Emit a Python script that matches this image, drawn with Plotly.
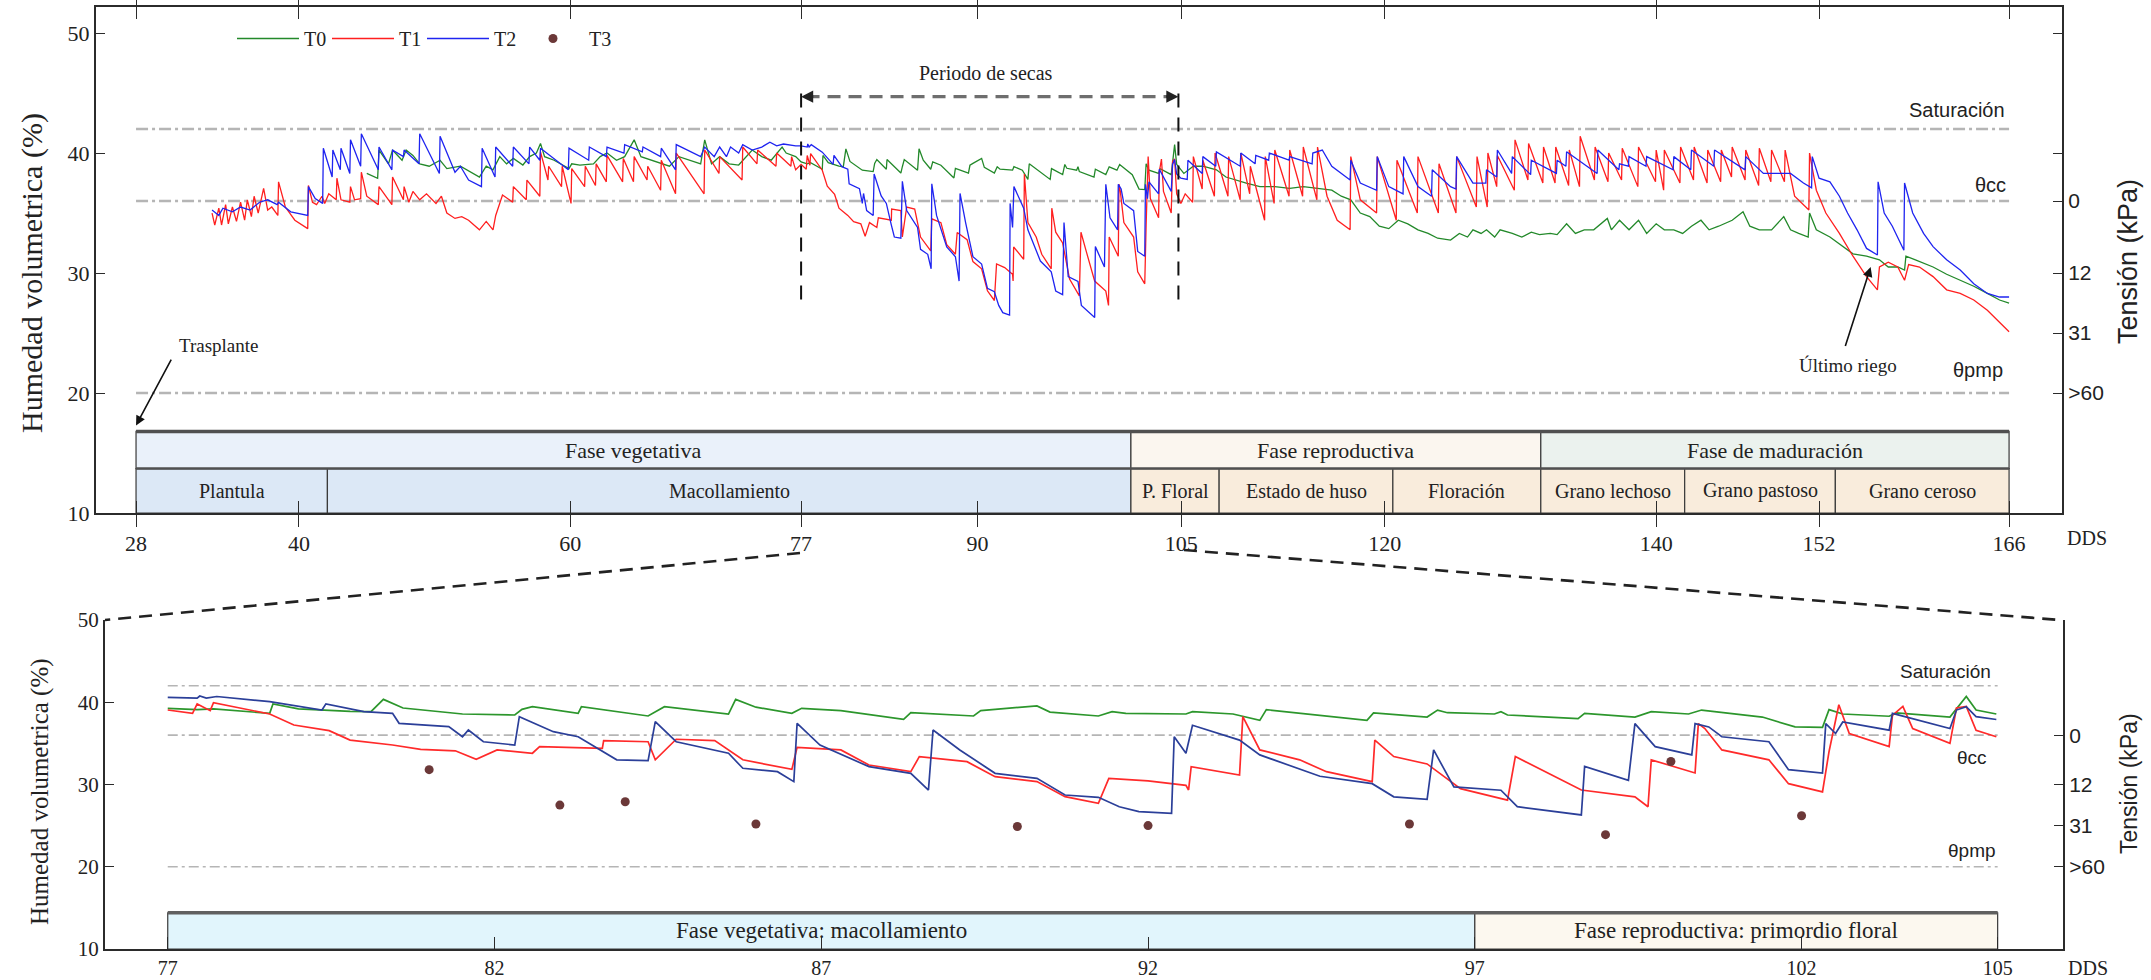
import plotly.graph_objects as go

# ---------------------------------------------------------------------------
# Soil volumetric moisture (%) per treatment vs. days after sowing (DDS)
# Each series is a list of (DDS, moisture) readings.
# ---------------------------------------------------------------------------

# Before the dry period (transplant -> 77 DDS)
t0_early = [(45.0, 38.3), (45.8, 37.9), (45.9, 40.25), (46.6, 39.1), (46.9, 40.25), (47.6, 39.4),
            (47.9, 40.25), (48.4, 39.8), (48.9, 39.1), (49.6, 38.9), (50.4, 39.4), (50.9, 38.7),
            (51.9, 38.9), (52.8, 38.3), (53.3, 38.0), (53.8, 38.9), (54.3, 38.6), (54.8, 39.7),
            (55.3, 39.1), (55.8, 39.55), (56.5, 39.0), (57.0, 39.7), (57.5, 40.0), (57.8, 40.8),
            (58.1, 39.7), (58.8, 39.4), (59.9, 38.7), (60.1, 39.1), (60.7, 39.0), (61.7, 39.1),
            (62.2, 39.7), (62.7, 40.0), (63.4, 39.4), (64.0, 39.7), (64.7, 41.1), (65.2, 39.7),
            (66.0, 39.4), (67.3, 38.9), (68.0, 39.7), (69.6, 39.1), (69.9, 41.1), (70.4, 39.1),
            (71.0, 39.7), (71.7, 39.1), (72.4, 39.0), (73.4, 40.25), (74.1, 39.7), (74.8, 39.4),
            (75.6, 40.5), (75.9, 40.0), (76.6, 39.7)]

t1_early = [(33.6, 35.0), (33.8, 34.0), (34.1, 35.4), (34.3, 34.0), (34.6, 35.7), (34.8, 34.1),
            (35.1, 35.5), (35.4, 34.3), (35.7, 35.9), (36.0, 34.4), (36.2, 36.1), (36.5, 34.7),
            (36.7, 36.4), (37.0, 35.0), (37.4, 37.05), (37.7, 35.25), (38.0, 35.5), (38.45, 34.8),
            (38.5, 37.6), (39.0, 35.5), (39.7, 34.4), (40.65, 33.7), (40.7, 37.3), (41.0, 35.9),
            (41.3, 35.7), (41.7, 36.4), (41.9, 35.8), (42.2, 36.6), (42.75, 36.1), (42.8, 37.9),
            (43.1, 36.1), (43.75, 35.9), (43.8, 37.2), (44.1, 36.1), (44.55, 36.2), (44.6, 38.4),
            (45.0, 36.4), (45.85, 35.7), (45.9, 37.2), (46.85, 35.7), (46.9, 38.0), (47.7, 36.1),
            (47.75, 37.2), (48.1, 35.9), (48.4, 36.8), (48.9, 36.1), (49.4, 36.6), (50.1, 35.8),
            (50.5, 36.4), (50.9, 35.0), (51.5, 34.55), (52.0, 34.7), (52.5, 34.4), (53.3, 33.6),
            (53.8, 34.3), (54.3, 33.6), (54.5, 34.8), (55.0, 36.5), (55.75, 35.9), (55.8, 37.2),
            (56.75, 36.1), (56.8, 37.75), (57.75, 36.4), (57.8, 40.1), (58.35, 37.75),
            (58.4, 38.9), (59.35, 37.2), (59.4, 38.9), (60.05, 35.8), (60.1, 38.7), (61.05, 37.2),
            (61.1, 38.9), (61.85, 37.3), (61.9, 39.1), (62.65, 37.6), (62.7, 39.8), (63.85, 37.6),
            (63.9, 39.55), (64.65, 37.6), (64.7, 39.7), (65.65, 37.75), (65.7, 38.9),
            (66.65, 36.9), (66.7, 39.4), (67.75, 36.6), (67.8, 40.0), (69.85, 36.6),
            (69.9, 40.25), (70.95, 38.3), (71.0, 39.7), (72.65, 37.75), (72.7, 40.5),
            (73.75, 39.1), (73.8, 40.25), (75.15, 38.9), (75.2, 40.0), (76.25, 38.9),
            (76.3, 39.7), (76.6, 38.6)]

t2_early = [(33.6, 35.25), (34.1, 34.8), (34.4, 35.4), (35.1, 35.1), (35.7, 35.5), (36.4, 35.25),
            (37.1, 35.9), (37.7, 36.1), (38.4, 35.7), (38.5, 35.9), (39.4, 35.1), (40.65, 34.8),
            (40.7, 37.2), (41.2, 36.2), (41.75, 35.8), (41.8, 40.4), (42.45, 38.0), (42.5, 40.25),
            (43.05, 38.6), (43.1, 40.4), (43.75, 38.3), (43.8, 41.1), (44.55, 38.9), (44.6, 41.6),
            (45.85, 38.6), (45.9, 40.5), (46.85, 38.6), (46.9, 40.25), (47.7, 39.7),
            (47.75, 40.25), (48.85, 39.1), (48.9, 41.6), (50.35, 38.3), (50.4, 41.4),
            (51.5, 38.4), (51.9, 38.9), (52.5, 37.75), (53.45, 37.2), (53.5, 40.4), (54.45, 38.0),
            (54.5, 40.5), (55.75, 38.9), (55.8, 40.5), (56.95, 39.1), (57.0, 40.5), (57.75, 39.4),
            (57.8, 40.4), (59.85, 38.6), (59.9, 40.4), (61.35, 39.4), (61.4, 40.5), (62.65, 39.7),
            (62.7, 40.5), (63.95, 40.0), (64.0, 40.7), (65.3, 40.1), (65.35, 40.5), (66.65, 39.7),
            (66.7, 40.4), (67.75, 38.6), (67.8, 40.7), (69.6, 39.7), (69.9, 40.5), (70.6, 39.7),
            (71.0, 40.5), (71.5, 39.7), (71.8, 40.5), (72.4, 40.0), (72.7, 40.7), (73.4, 40.25),
            (74.1, 40.5), (74.7, 40.9), (75.2, 40.6), (75.7, 40.75), (76.6, 40.6)]

# Dry period (77 -> 105 DDS), also shown in the detail panel
t0_dry = [(77.0, 39.26), (77.45, 39.1), (77.7, 39.2), (78.56, 38.65), (78.61, 39.8), (79.0, 39.2),
          (79.79, 38.9), (80.11, 38.86), (80.3, 40.35), (80.6, 39.3), (81.51, 38.57), (82.31, 38.45),
          (82.42, 39.14), (82.58, 39.46), (83.28, 38.65), (83.33, 39.46), (84.35, 38.33),
          (84.46, 38.86), (84.6, 39.46), (85.58, 38.57), (85.69, 40.35), (86.0, 39.4),
          (86.55, 38.65), (86.7, 39.26), (87.3, 38.98), (88.26, 37.92), (88.37, 38.73),
          (89.33, 38.33), (89.44, 38.98), (89.66, 39.14), (90.3, 39.55), (90.5, 38.8),
          (91.24, 38.33), (91.45, 38.86), (91.66, 38.65), (92.58, 38.57), (92.68, 38.86),
          (93.3, 38.57), (93.71, 37.8), (93.81, 39.1), (94.5, 38.5), (95.35, 37.8), (95.45, 38.7),
          (96.27, 38.2), (96.43, 39.05), (96.58, 38.73), (97.3, 38.57), (97.4, 38.86),
          (97.5, 38.45), (98.58, 38.0), (98.68, 38.65), (99.45, 38.2), (99.7, 38.85),
          (100.27, 38.57), (100.47, 39.05), (101.4, 38.2), (101.9, 37.0), (102.32, 36.95),
          (102.42, 39.1), (102.63, 38.57), (103.34, 38.3), (103.45, 38.7), (104.27, 38.2),
          (104.52, 40.7), (104.67, 39.06), (104.98, 38.57)]

t1_dry = [(77.0, 39.06), (77.38, 38.65), (77.45, 39.8), (77.65, 38.98), (77.7, 39.95), (78.56, 38.57),
          (78.93, 37.23), (79.47, 36.55), (79.79, 35.4), (80.44, 34.8), (80.87, 34.28), (81.4, 34.1),
          (81.72, 33.06), (82.04, 34.2), (82.58, 33.8), (82.69, 34.6), (83.65, 34.4), (83.67, 35.33),
          (84.35, 35.2), (84.46, 33.0), (84.78, 35.5), (85.37, 35.33), (85.8, 33.0), (86.55, 31.84),
          (86.63, 34.52), (87.3, 34.2), (87.73, 32.37), (88.37, 31.56), (88.5, 33.38),
          (89.23, 32.78), (89.66, 30.95), (90.3, 30.35), (90.73, 28.52), (91.24, 27.71),
          (91.4, 30.75), (92.0, 30.45), (92.58, 29.9), (92.62, 29.33), (92.66, 32.17), (93.4, 31.15),
          (93.45, 38.25), (93.71, 34.2), (94.32, 33.0), (94.73, 31.56), (95.43, 30.35),
          (95.47, 35.4), (95.76, 33.4), (96.27, 32.5), (96.78, 29.5), (97.5, 28.1), (97.62, 33.4),
          (98.01, 31.8), (98.63, 29.33), (99.45, 28.5), (99.65, 27.3), (99.7, 33.0), (100.37, 31.4),
          (100.42, 37.4), (100.52, 36.8), (100.78, 34.2), (101.5, 33.0), (101.8, 30.1),
          (102.32, 29.1), (102.42, 34.0), (102.47, 35.8), (102.57, 39.7), (102.73, 36.2),
          (103.34, 34.6), (103.39, 38.4), (103.55, 39.5), (103.7, 36.8), (104.27, 35.0),
          (104.37, 39.3), (104.52, 39.5), (104.67, 36.6), (104.98, 35.8)]

t2_dry = [(77.0, 40.6), (77.45, 40.5), (77.49, 40.76), (77.59, 40.5), (77.75, 40.7), (78.56, 40.07),
          (79.36, 39.06), (79.42, 39.8), (80.0, 38.86), (80.44, 38.65), (80.54, 37.44), (81.3, 37.03),
          (81.51, 35.8), (81.6, 36.63), (81.83, 35.2), (82.31, 34.8), (82.38, 38.25), (82.9, 36.42),
          (83.28, 35.8), (83.65, 33.99), (83.87, 33.0), (84.35, 32.9), (84.46, 37.64), (84.78, 35.2),
          (85.58, 33.8), (85.8, 31.97), (86.33, 31.56), (86.58, 30.35), (86.63, 37.44),
          (86.98, 34.8), (87.73, 32.17), (88.37, 31.36), (88.64, 29.33), (88.71, 36.63),
          (89.12, 34.2), (89.66, 31.36), (90.3, 30.75), (90.73, 28.72), (91.24, 28.44),
          (91.56, 27.3), (91.86, 26.7), (92.36, 26.5), (92.4, 35.8), (92.58, 33.8), (92.68, 37.2),
          (93.4, 35.4), (93.71, 33.6), (94.63, 31.0), (95.43, 30.1), (95.76, 28.5), (96.27, 28.2),
          (96.37, 34.2), (96.68, 29.7), (97.4, 29.3), (97.65, 27.3), (98.63, 26.3), (98.68, 32.2),
          (99.35, 30.5), (99.45, 37.4), (99.76, 34.6), (100.32, 33.6), (100.37, 37.4),
          (100.58, 37.0), (100.78, 35.8), (101.5, 35.2), (101.8, 31.8), (102.32, 31.4),
          (102.37, 37.4), (102.52, 36.2), (102.63, 37.6), (103.34, 36.6), (103.39, 38.65),
          (103.55, 38.3), (104.27, 36.8), (104.37, 39.05), (104.52, 39.46), (104.67, 38.25),
          (104.98, 37.9)]

# After the dry period (105 -> harvest)
t0_late = [(105.2, 38.3), (105.9, 38.9), (106.6, 38.9), (107.6, 38.6), (108.3, 38.0), (109.8, 37.5),
           (110.8, 37.2), (111.9, 37.2), (113.0, 37.05), (114.0, 37.2), (115.05, 37.05),
           (116.1, 36.9), (116.8, 36.4), (117.5, 36.1), (118.2, 35.0), (118.9, 34.7), (119.6, 33.9),
           (120.3, 33.7), (121.0, 34.4), (121.7, 34.1), (122.45, 33.6), (123.2, 33.3),
           (123.9, 32.9), (124.85, 32.75), (125.5, 33.3), (126.1, 33.0), (126.5, 33.6),
           (127.1, 33.3), (127.5, 33.6), (128.1, 33.0), (128.5, 33.6), (129.4, 33.3), (130.1, 33.0),
           (130.8, 33.4), (131.4, 33.2), (132.2, 33.3), (132.7, 33.2), (133.4, 34.1),
           (134.05, 33.3), (134.7, 33.6), (135.4, 33.6), (136.4, 34.55), (136.7, 33.6),
           (137.3, 34.4), (138.0, 33.6), (138.7, 34.4), (139.3, 33.3), (140.0, 34.1), (140.6, 33.6),
           (141.3, 33.6), (141.95, 33.3), (142.6, 33.9), (143.3, 34.4), (143.9, 33.6),
           (144.6, 33.9), (145.6, 34.4), (146.4, 35.1), (146.9, 33.9), (147.6, 33.6), (148.5, 33.6),
           (149.4, 34.7), (149.9, 33.6), (150.5, 33.3), (151.2, 33.0), (151.3, 35.0), (151.8, 33.6),
           (152.8, 33.0), (153.8, 32.2), (154.5, 31.6), (155.5, 31.4), (156.45, 31.1),
           (157.1, 30.5), (157.8, 30.5), (158.3, 30.25), (158.4, 31.4), (159.1, 31.1),
           (160.4, 30.5), (161.4, 29.9), (162.4, 29.4), (163.4, 28.9), (164.4, 28.3),
           (165.3, 27.75), (166.0, 27.5)]

t1_late = [(105.3, 36.6), (105.85, 35.9), (105.9, 39.7), (106.55, 37.0), (106.6, 39.4),
           (107.45, 36.4), (107.5, 40.0), (108.45, 36.4), (108.5, 39.7), (109.35, 36.1),
           (109.4, 40.0), (110.05, 36.6), (110.1, 38.9), (111.15, 34.4), (111.2, 39.7),
           (111.85, 35.8), (111.9, 40.25), (112.95, 36.4), (113.0, 40.25), (113.95, 36.4),
           (114.0, 40.5), (115.0, 36.1), (115.05, 40.5), (115.75, 36.4), (116.5, 34.4),
           (117.45, 33.6), (117.5, 39.7), (118.2, 36.1), (119.4, 35.0), (119.45, 39.7),
           (120.85, 34.4), (120.9, 39.4), (122.4, 35.0), (122.45, 39.7), (123.95, 35.0),
           (124.0, 39.1), (125.25, 35.0), (125.3, 39.7), (126.75, 35.5), (126.8, 39.7),
           (127.55, 35.5), (127.6, 40.0), (128.25, 37.2), (128.3, 39.8), (129.55, 36.9),
           (129.6, 41.1), (130.55, 37.75), (130.6, 40.8), (131.65, 37.5), (131.7, 40.5),
           (132.55, 37.5), (132.6, 40.5), (133.55, 37.3), (133.6, 40.25), (134.35, 37.2),
           (134.4, 41.4), (135.45, 37.75), (135.5, 40.5), (136.45, 37.6), (136.5, 40.0),
           (137.45, 37.75), (137.5, 40.4), (138.65, 37.2), (138.7, 40.5), (139.95, 37.6),
           (140.0, 40.25), (140.55, 36.9), (140.6, 40.25), (141.75, 37.5), (141.8, 40.5),
           (142.75, 37.75), (142.8, 40.5), (143.75, 37.5), (143.8, 40.25), (144.75, 37.6),
           (144.8, 40.25), (145.55, 38.0), (145.6, 40.5), (146.55, 37.75), (146.6, 40.25),
           (147.55, 37.3), (147.6, 40.4), (148.45, 37.6), (148.5, 40.25), (149.45, 37.6),
           (149.5, 40.25), (150.2, 36.4), (151.25, 35.25), (151.3, 40.0), (151.8, 36.9),
           (152.5, 35.0), (153.5, 33.3), (154.5, 31.4), (155.5, 29.7), (156.3, 28.6),
           (156.45, 30.5), (157.1, 30.9), (157.8, 30.5), (158.3, 29.4), (158.6, 30.7),
           (159.4, 30.5), (160.4, 29.7), (161.4, 28.6), (162.4, 28.3), (163.4, 27.75),
           (164.4, 26.9), (166.0, 25.1)]

t2_late = [(105.45, 37.8), (105.5, 39.4), (106.55, 38.3), (106.6, 39.7), (107.55, 38.9),
           (107.6, 40.1), (109.35, 38.9), (109.4, 40.0), (110.45, 39.1), (110.5, 39.8),
           (111.45, 39.4), (111.5, 40.0), (112.95, 39.4), (113.0, 39.7), (114.65, 39.1),
           (114.7, 40.0), (115.4, 40.25), (116.1, 38.9), (117.45, 37.75), (117.5, 39.4),
           (118.2, 37.5), (119.4, 36.9), (119.45, 39.7), (120.3, 37.2), (121.35, 36.6),
           (121.4, 39.7), (122.45, 37.2), (123.45, 36.4), (123.5, 38.6), (124.85, 37.2),
           (125.25, 37.0), (125.3, 39.7), (126.5, 37.5), (127.45, 37.5), (127.5, 38.6),
           (128.25, 38.0), (128.3, 40.25), (129.35, 38.3), (129.4, 39.7), (130.75, 38.2),
           (130.8, 39.4), (132.65, 38.3), (132.7, 39.4), (133.35, 38.9), (133.4, 40.1),
           (135.65, 38.3), (135.7, 40.25), (137.25, 38.6), (137.3, 39.1), (137.95, 38.9),
           (138.0, 39.7), (139.25, 38.9), (139.3, 39.7), (141.25, 38.6), (141.3, 39.7),
           (142.55, 38.6), (142.6, 40.25), (144.25, 38.9), (144.3, 40.25), (146.55, 38.6),
           (146.6, 39.7), (147.9, 38.3), (149.9, 38.3), (150.85, 37.5), (151.45, 37.1),
           (151.5, 39.7), (152.0, 37.9), (152.8, 37.6), (153.5, 36.4), (154.1, 35.0),
           (154.8, 33.6), (155.5, 32.05), (156.3, 31.5), (156.35, 37.6), (156.8, 35.0),
           (157.4, 33.9), (158.25, 31.9), (158.3, 37.5), (158.9, 35.0), (159.7, 33.3),
           (160.4, 32.2), (161.4, 31.1), (162.4, 30.25), (163.4, 29.1), (164.4, 28.3),
           (165.3, 28.0), (166.0, 28.0)]

# T3: point readings during the dry period
t3_dds = [81, 83, 84, 86, 90, 92, 96, 99, 100, 102]
t3_moist = [31.8, 27.5, 27.9, 25.2, 24.9, 25.0, 25.2, 23.9, 32.8, 26.2]

# Axis ticks
x_ticks_full = [28, 40, 60, 77, 90, 105, 120, 140, 152, 166]
x_ticks_zoom = [77, 82, 87, 92, 97, 102, 105]
y_ticks = [10, 20, 30, 40, 50]
tension_at = [50, 40, 36, 30, 25, 20]
tension_lbl = ["", "", "0", "12", "31", ">60"]

# Reference moisture levels
sat_level, cc_level, pmp_level = 42, 36, 20

# Crop phases (label, start DDS, end DDS)
phases = [("Fase vegetativa", 28, 101.3), ("Fase reproductiva", 101.3, 131.5),
          ("Fase de maduración", 131.5, 166)]
stages = [("Plantula", 28, 42.1), ("Macollamiento", 42.1, 101.3), ("P. Floral", 101.3, 107.8),
          ("Estado de huso", 107.8, 120.6), ("Floración", 120.6, 131.5),
          ("Grano lechoso", 131.5, 142.1), ("Grano pastoso", 142.1, 153.2),
          ("Grano ceroso", 153.2, 166)]
zoom_phases = [("Fase vegetativa: macollamiento", 77, 97),
               ("Fase reproductiva: primordio floral", 97, 105)]

# ---------------------------------------------------------------------------
SERIF = "Liberation Serif, Times New Roman, serif"
SANS = "Liberation Sans, Arial, sans-serif"
AX = "#2b2b2b"
REF = "#b5b5b5"
W, H = 2151, 980

phase_fill = ["#eaf1fa", "#fbf6ef", "#ebf2ee"]
stage_fill = ["#dce8f6", "#dce8f6", "#f9ecdc", "#f9ecdc", "#f9ecdc", "#f9ecdc", "#f9ecdc", "#f9ecdc"]
zoom_fill = ["#e1f5fc", "#fcf8ef"]


def unzip(pairs):
    return [p[0] for p in pairs], [p[1] for p in pairs]


fig = go.Figure()

colors_full = {"T0": "#23892a", "T1": "#ff1f1f", "T2": "#1f24f0"}
colors_zoom = {"T0": "#2c962c", "T1": "#ff2a2a", "T2": "#2b3f99"}
full_series = {"T0": t0_early + t0_dry + t0_late,
               "T1": t1_early + t1_dry + t1_late,
               "T2": t2_early + t2_dry + t2_late}
zoom_series = {"T0": t0_dry, "T1": t1_dry, "T2": t2_dry}

for name, pairs in full_series.items():
    xs, ys = unzip(pairs)
    fig.add_trace(go.Scatter(x=xs, y=ys, mode="lines", name=name,
                             line=dict(color=colors_full[name], width=1.3),
                             xaxis="x", yaxis="y"))

# invisible anchor for the right-hand tension axis of each panel
fig.add_trace(go.Scatter(x=[166] * 4, y=tension_at[2:], mode="markers", marker=dict(opacity=0),
                         showlegend=False, hoverinfo="skip", xaxis="x", yaxis="y2"))

for name, pairs in zoom_series.items():
    xs, ys = unzip(pairs)
    fig.add_trace(go.Scatter(x=xs, y=ys, mode="lines", name=name, showlegend=False,
                             line=dict(color=colors_zoom[name], width=1.7),
                             xaxis="x2", yaxis="y3"))

fig.add_trace(go.Scatter(x=t3_dds, y=t3_moist, mode="markers", name="T3",
                         marker=dict(color="#6b3838", size=9),
                         xaxis="x2", yaxis="y3"))
fig.add_trace(go.Scatter(x=[105] * 4, y=tension_at[2:], mode="markers", marker=dict(opacity=0),
                         showlegend=False, hoverinfo="skip", xaxis="x2", yaxis="y4"))

# ---------------------------------------------------------------------------
shapes = []
ann = []


def note(text, x, y, xref="x", yref="y", size=20, family=SERIF, **kw):
    d = dict(text=text, x=x, y=y, xref=xref, yref=yref, showarrow=False,
             xanchor="center", yanchor="middle", font=dict(family=family, size=size, color="#222"))
    d.update(kw)
    ann.append(d)


# reference levels
for lvl in (sat_level, cc_level, pmp_level):
    shapes.append(dict(type="line", xref="x", yref="y", x0=28, x1=166, y0=lvl, y1=lvl,
                       line=dict(color=REF, width=2.6, dash="12px,4px,3px,4px"), layer="below"))
    shapes.append(dict(type="line", xref="x2", yref="y3", x0=77, x1=105, y0=lvl, y1=lvl,
                       line=dict(color=REF, width=1.6, dash="10px,4px,3px,4px"), layer="below"))

for txt, xv, yv in (("Saturación", 162.2, 43.6), ("θcc", 164.6, 37.3), ("θpmp", 163.7, 21.9)):
    note(txt, xv, yv, family=SANS, size=20)
for txt, xv, yv in (("Saturación", 104.2, 43.7), ("θcc", 104.6, 33.3), ("θpmp", 104.6, 22.0)):
    note(txt, xv, yv, xref="x2", yref="y3", family=SANS, size=19)

# phase boxes, full season
row_top, row_mid, row_bot = 16.8, 13.7, 10.0
for (label, a, b), fc in zip(phases, phase_fill):
    shapes.append(dict(type="rect", xref="x", yref="y", x0=a, x1=b, y0=row_mid, y1=row_top,
                       fillcolor=fc, line=dict(color="#3a3a3a", width=1.2), layer="below"))
    note(label, (a + b) / 2, (row_mid + row_top) / 2, size=22)
for (label, a, b), fc in zip(stages, stage_fill):
    shapes.append(dict(type="rect", xref="x", yref="y", x0=a, x1=b, y0=row_bot, y1=row_mid,
                       fillcolor=fc, line=dict(color="#3a3a3a", width=1.2), layer="below"))
    note(label, (a + b) / 2, (row_bot + row_mid) / 2, size=20)
for yv, wv in ((row_top, 3.5), (row_mid, 2.5)):
    shapes.append(dict(type="line", xref="x", yref="y", x0=28, x1=166, y0=yv, y1=yv,
                       line=dict(color="#505050", width=wv), layer="below"))

# phase boxes, dry-period detail
z_top = 14.4
for (label, a, b), fc in zip(zoom_phases, zoom_fill):
    shapes.append(dict(type="rect", xref="x2", yref="y3", x0=a, x1=b, y0=10, y1=z_top,
                       fillcolor=fc, line=dict(color="#3a3a3a", width=1.2), layer="below"))
    note(label, (a + b) / 2, (10 + z_top) / 2, xref="x2", yref="y3", size=23)
shapes.append(dict(type="line", xref="x2", yref="y3", x0=77, x1=105, y0=z_top, y1=z_top,
                   line=dict(color="#606060", width=3.5), layer="below"))

# dry period marker
dry_start, dry_end = 77, 104.8
for xv in (dry_start, dry_end):
    shapes.append(dict(type="line", xref="x", yref="y", x0=xv, x1=xv, y0=27.8, y1=45.7,
                       line=dict(color="#111", width=2, dash="14px,10px")))
shapes.append(dict(type="line", xref="x", yref="y", x0=dry_start + 0.4, x1=dry_end - 0.4,
                   y0=44.7, y1=44.7, line=dict(color="#6e6e6e", width=3.2, dash="13px,8px")))
for head, tail in ((dry_start, dry_start + 1.0), (dry_end, dry_end - 1.0)):
    ann.append(dict(text="", x=head, y=44.7, ax=tail, ay=44.7, xref="x", yref="y",
                    axref="x", ayref="y", showarrow=True, arrowhead=2, arrowsize=1.1,
                    arrowwidth=2.2, arrowcolor="#222"))
note("Periodo de secas", 90.6, 46.7, size=20)

# transplant and last irrigation
ann.append(dict(text="", x=28, y=17.3, ax=30.65, ay=22.9, xref="x", yref="y", axref="x",
                ayref="y", showarrow=True, arrowhead=2, arrowsize=1.2, arrowwidth=1.6,
                arrowcolor="#111"))
note("Trasplante", 34.1, 24.0, size=19)
ann.append(dict(text="", x=155.8, y=30.5, ax=153.9, ay=23.8, xref="x", yref="y", axref="x",
                ayref="y", showarrow=True, arrowhead=2, arrowsize=1.2, arrowwidth=1.6,
                arrowcolor="#111"))
note("Último riego", 154.1, 22.3, size=19)

# connector lines from the full season axis to the detail panel
for (xa, ya), (xb, yb) in (((800, 553), (105, 620)), ((1184, 550), (2060, 620))):
    shapes.append(dict(type="line", xref="paper", yref="paper", x0=xa / W, y0=1 - ya / H,
                       x1=xb / W, y1=1 - yb / H,
                       line=dict(color="#222", width=2.6, dash="13px,8px")))

# axis titles and units
note("Humedad volumetrica (%)", 32 / W, 1 - 273 / H, "paper", "paper", size=30, textangle=-90)
note("Humedad volumetrica (%)", 40 / W, 1 - 792 / H, "paper", "paper", size=25, textangle=-90)
note("Tensión (kPa)", 2128 / W, 1 - 262 / H, "paper", "paper", family=SANS, size=27, textangle=-90)
note("Tensión (kPa)", 2129 / W, 1 - 784 / H, "paper", "paper", family=SANS, size=23, textangle=-90)
note("DDS", 2065 / W, 1 - 538 / H, "paper", "paper", size=20, xanchor="left")
note("DDS", 2066 / W, 1 - 968 / H, "paper", "paper", size=20, xanchor="left")

tick_font = dict(family=SERIF, size=22, color="#222")
common_x = dict(showgrid=False, zeroline=False, ticks="inside", ticklen=12, tickwidth=1,
                tickcolor=AX, showline=True, linecolor=AX, linewidth=2, tickfont=tick_font,
                automargin=False)
common_y = dict(showgrid=False, zeroline=False, ticks="inside", ticklen=9, tickwidth=1,
                tickcolor=AX, showline=True, linecolor=AX, linewidth=2, automargin=False)

fig.update_layout(
    template="none",
    width=W, height=H, margin=dict(l=0, r=0, t=0, b=0, pad=0), autosize=False,
    paper_bgcolor="white", plot_bgcolor="white",
    xaxis=dict(common_x, domain=[96 / W, 2062 / W], range=[25.05, 169.9], anchor="y",
               tickvals=x_ticks_full, mirror="allticks", ticklabelstandoff=10),
    yaxis=dict(common_y, domain=[1 - 513 / H, 1 - 7 / H], range=[10, 52.17], anchor="x",
               tickvals=y_ticks, tickfont=tick_font),
    yaxis2=dict(common_y, overlaying="y", side="right", anchor="x", range=[10, 52.17],
                tickvals=tension_at, ticktext=tension_lbl,
                tickfont=dict(family=SANS, size=21, color="#222")),
    xaxis2=dict(common_x, domain=[105 / W, 2063 / W], range=[76.04, 106.0], anchor="y3",
                tickvals=x_ticks_zoom, ticklabelstandoff=0,
                tickfont=dict(family=SERIF, size=20, color="#222")),
    yaxis3=dict(common_y, domain=[1 - 949 / H, 1 - 620 / H], range=[10, 50], anchor="x2",
                tickvals=y_ticks, tickfont=dict(family=SERIF, size=21, color="#222")),
    yaxis4=dict(common_y, overlaying="y3", side="right", anchor="x2", range=[10, 50],
                tickvals=tension_at[2:], ticktext=tension_lbl[2:],
                tickfont=dict(family=SANS, size=21, color="#222")),
    legend=dict(orientation="h", x=232 / W, y=1 - 19 / H, xanchor="left", yanchor="top",
                bgcolor="rgba(0,0,0,0)", font=dict(family=SERIF, size=20, color="#222"),
                entrywidth=18, entrywidthmode="pixels", itemwidth=62, traceorder="normal"),
    shapes=shapes, annotations=ann,
)

fig.write_html("out.html")
